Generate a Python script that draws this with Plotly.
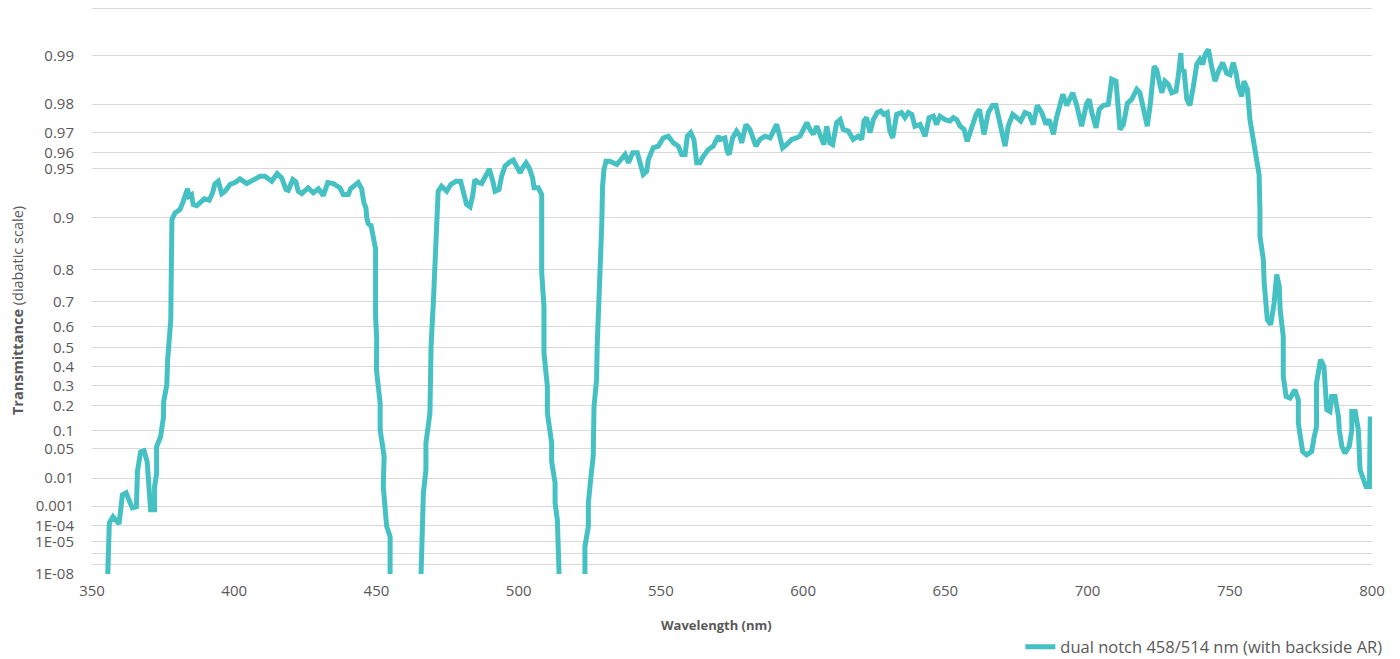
import math
import plotly.graph_objects as go

# ---- data (wavelength in nm, transmittance as fraction) ----
seg1_wl = [355.45, 356.1, 357.4, 359.5, 360.7, 362.0, 363.4, 364.2, 365.6, 366.0, 367.1, 368.3, 369.4,
           370.2, 370.6, 372.0, 372.0, 372.7, 372.7, 374.1, 374.6, 375.1, 375.2, 376.3, 376.6, 377.2,
           377.7, 377.8, 378.0, 378.1, 379.2, 380.9, 381.9, 382.7, 383.6, 384.1, 385.0, 385.6, 386.8,
           389.5, 391.2, 392.4, 393.2, 394.4, 395.6, 396.8, 398.5, 400.6, 402.0, 404.4, 406.7, 409.1,
           410.8, 413.2, 415.1, 416.7, 418.2, 419.0, 420.6, 421.7, 422.5, 423.7, 426.0, 427.8, 429.6,
           431.3, 432.9, 434.8, 437.2, 438.3, 440.1, 440.9, 443.6, 444.8, 445.6, 446.3, 446.6, 447.1,
           448.1, 448.7, 449.7, 449.7, 450.1, 450.0, 451.3, 451.3, 452.7, 452.4, 453.6, 454.8, 454.8]
seg1_T = [1e-9, 1.5e-4, 3.12e-4, 1.31e-4, 2.84e-3, 3.36e-3, 1.38e-3, 8.4e-4, 9.3e-4, 0.01595, 0.0432,
          0.0453, 0.0264, 0.00582, 6.8e-4, 6.8e-4, 0.0054, 0.01327, 0.0539, 0.0799, 0.1199, 0.1472,
          0.2189, 0.3052, 0.4381, 0.5248, 0.6303, 0.742, 0.8312, 0.8976, 0.9066, 0.9108, 0.9187, 0.9259,
          0.9332, 0.9259, 0.9276, 0.9168, 0.9156, 0.9231, 0.9216, 0.9294, 0.9377, 0.9400, 0.9286, 0.9309,
          0.9371, 0.9393, 0.9419, 0.9380, 0.9414, 0.9440, 0.9440, 0.9400, 0.9461, 0.9427, 0.9325, 0.9318,
          0.9414, 0.9393, 0.9309, 0.9286, 0.9341, 0.9294, 0.9332, 0.9266, 0.9388, 0.9380, 0.9341, 0.9276,
          0.9276, 0.9332, 0.9388, 0.9332, 0.9187, 0.9129, 0.9000, 0.8918, 0.8888, 0.8777, 0.8475, 0.644,
          0.5395, 0.3851, 0.2127, 0.1021, 0.0347, 0.00552, 9.2e-5, 2.15e-5, 1e-9]

seg2_wl = [465.6, 466.5, 467.4, 467.4, 468.8, 469.2, 470.0, 470.6, 470.9, 471.7, 472.9, 474.7, 476.1,
           478.0, 479.6, 480.8, 481.7, 482.9, 483.8, 484.6, 485.8, 487.0, 488.2, 489.7, 490.9, 491.7,
           493.1, 494.0, 495.2, 496.7, 498.1, 499.3, 500.5, 501.4, 502.6, 503.7, 504.9, 505.4, 506.9,
           508.1, 508.1, 508.9, 508.9, 510.1, 510.1, 511.6, 511.6, 512.8, 512.8, 513.6, 514.3]
seg2_T = [1e-9, 3.27e-3, 0.01693, 0.0628, 0.1669, 0.5067, 0.6966, 0.8166, 0.8976, 0.9309, 0.9356,
          0.9309, 0.9371, 0.9400, 0.9400, 0.9294, 0.9168, 0.9141, 0.9259, 0.9414, 0.9388, 0.9380, 0.9440,
          0.9496, 0.9400, 0.9309, 0.9325, 0.9440, 0.9514, 0.9541, 0.9554, 0.9514, 0.9467, 0.9503, 0.9537,
          0.9503, 0.9427, 0.9341, 0.9341, 0.9276, 0.7911, 0.6836, 0.4729, 0.2963, 0.1669, 0.0628, 0.0269,
          0.0071, 1.34e-3, 2.18e-4, 1e-9]

seg3_wl = [523.3, 523.3, 524.5, 524.5, 525.3, 526.2, 526.5, 527.4, 527.6, 528.3, 528.6, 529.2, 529.5,
           530.0, 530.7, 532.1, 534.5, 536.2, 537.4, 538.6, 540.1, 541.7, 542.6, 543.8, 545.0, 545.6,
           547.3, 549.1, 550.8, 552.6, 554.4, 556.1, 557.3, 558.5, 559.3, 560.5, 561.6, 562.6, 563.7,
           564.9, 566.7, 568.4, 570.2, 570.8, 572.5, 573.3, 574.0, 575.2, 576.6, 577.8, 578.4, 579.9,
           581.3, 582.5, 583.4, 584.8, 586.6, 588.4, 589.5, 590.7, 591.6, 592.8, 594.2, 596.0, 597.7,
           598.9, 600.1, 601.3, 602.4, 603.6, 604.8, 606.5, 607.3, 608.3, 609.4, 610.4, 611.8, 613.0,
           614.1, 615.9, 617.1, 617.6, 619.4, 620.6, 621.4, 622.3, 623.5, 624.7, 626.1, 627.3, 628.4,
           629.6, 630.5, 631.5, 632.9, 634.6, 635.8, 637.0, 638.2, 639.3, 641.1, 642.9, 644.3, 645.8,
           646.9, 648.1, 649.9, 651.6, 652.8, 654.0, 655.2, 656.6, 657.7, 659.3, 660.8, 662.0, 662.8,
           663.6, 665.1, 666.6, 667.8, 669.0, 670.2, 671.0, 672.1, 673.7, 675.1, 676.5, 678.0, 679.5,
           680.9, 682.3, 683.9, 685.4, 686.5, 688.0, 689.1, 690.3, 691.3, 692.7, 693.8, 694.8, 696.2,
           697.9, 699.7, 700.6, 701.5, 703.0, 704.1, 705.5, 707.3, 708.5, 710.0, 711.4, 712.6, 714.0,
           715.5, 717.3, 718.4, 720.0, 721.0, 722.0, 723.4, 724.3, 725.2, 726.1, 727.2, 728.4, 729.6,
           731.1, 731.9, 732.8, 733.1, 733.9, 734.9, 736.0, 737.2, 738.4, 739.5, 740.5, 741.3, 742.5,
           743.6, 744.8, 746.0, 747.5, 748.9, 750.1, 751.2, 752.2, 753.0, 754.2, 755.0, 756.2, 757.1,
           758.3, 758.9, 760.0, 760.3, 760.6, 760.6, 761.8, 762.1, 763.2, 764.4, 765.6, 766.5, 767.4,
           767.7, 768.8, 768.8, 769.8, 771.2, 772.9, 774.1, 774.1, 774.9, 775.6, 777.0, 778.8, 779.6,
           780.5, 780.5, 781.9, 783.1, 783.7, 784.1, 785.2, 785.8, 787.0, 788.2, 788.5, 789.4, 790.5,
           792.0, 792.9, 792.9, 794.1, 795.2, 795.8, 797.0, 797.9, 799.1, 799.4]
seg3_T = [1e-9, 4.0e-6, 9.2e-5, 1.34e-3, 0.00895, 0.0347, 0.1966, 0.3317, 0.5067, 0.6966, 0.8166,
          0.8878, 0.9356, 0.9491, 0.9547, 0.9547, 0.9526, 0.9558, 0.9588, 0.9537, 0.9598, 0.9598, 0.9537,
          0.9454, 0.9478, 0.9558, 0.9626, 0.9635, 0.9675, 0.9683, 0.9651, 0.9635, 0.9588, 0.9588, 0.9683,
          0.9699, 0.9668, 0.9537, 0.9537, 0.9578, 0.9617, 0.9635, 0.9683, 0.9668, 0.9675, 0.9607, 0.9588,
          0.9675, 0.9705, 0.9683, 0.9651, 0.9732, 0.9712, 0.9675, 0.9635, 0.9668, 0.9683, 0.9675, 0.9699,
          0.9732, 0.9691, 0.9626, 0.9643, 0.9668, 0.9675, 0.9683, 0.9712, 0.9739, 0.9712, 0.9691, 0.9725,
          0.9675, 0.9643, 0.9725, 0.9651, 0.9643, 0.9739, 0.9750, 0.9712, 0.9705, 0.9683, 0.9668, 0.9683,
          0.9668, 0.9745, 0.9757, 0.9699, 0.9750, 0.9774, 0.9779, 0.9768, 0.9774, 0.9705, 0.9675, 0.9768,
          0.9774, 0.9757, 0.9774, 0.9768, 0.9725, 0.9732, 0.9683, 0.9757, 0.9762, 0.9732, 0.9762, 0.9750,
          0.9745, 0.9757, 0.9750, 0.9725, 0.9712, 0.9659, 0.9725, 0.9768, 0.9784, 0.9739, 0.9691, 0.9774,
          0.9796, 0.9796, 0.9750, 0.9683, 0.9635, 0.9725, 0.9768, 0.9757, 0.9745, 0.9774, 0.9768, 0.9732,
          0.9796, 0.9774, 0.9732, 0.9750, 0.9691, 0.9757, 0.9802, 0.9826, 0.9796, 0.9816, 0.9830, 0.9796,
          0.9725, 0.9802, 0.9813, 0.9774, 0.9719, 0.9784, 0.9796, 0.9799, 0.9860, 0.9856, 0.9712, 0.9732,
          0.9802, 0.9813, 0.9838, 0.9830, 0.9757, 0.9725, 0.9796, 0.9884, 0.9878, 0.9853, 0.9830, 0.9856,
          0.9849, 0.9830, 0.9834, 0.9866, 0.9904, 0.9875, 0.9878, 0.9813, 0.9796, 0.9845, 0.9887, 0.9895,
          0.9887, 0.9902, 0.9909, 0.9884, 0.9856, 0.9875, 0.9890, 0.9872, 0.9869, 0.9890, 0.9872, 0.9845,
          0.9821, 0.9856, 0.9838, 0.9750, 0.9668, 0.9578, 0.9467, 0.9454, 0.9108, 0.8715, 0.8244, 0.7629,
          0.6303, 0.6088, 0.6966, 0.7866, 0.7522, 0.6706, 0.5553, 0.3492, 0.2449, 0.2370, 0.2791, 0.2287,
          0.1262, 0.0715, 0.0439, 0.0376, 0.0439, 0.0762, 0.1137, 0.3143, 0.4381, 0.4026, 0.2622, 0.1815,
          0.1739, 0.2449, 0.2449, 0.1525, 0.1021, 0.0546, 0.0407, 0.0546, 0.1021, 0.1739, 0.1739, 0.1021,
          0.01693, 0.00895, 0.00552, 0.00552, 0.1525]

tick_values = [0.995, 0.99, 0.98, 0.97, 0.96, 0.95, 0.9, 0.8, 0.7, 0.6, 0.5, 0.4, 0.3, 0.2, 0.1, 0.05,
               0.01, 0.001, 1e-4, 1e-5, 1e-6, 1e-7, 1e-8]
tick_labels = ["", "0.99", "0.98", "0.97", "0.96", "0.95", "0.9", "0.8", "0.7", "0.6", "0.5", "0.4",
               "0.3", "0.2", "0.1", "0.05", "0.01", "0.001", "1E-04", "1E-05", "", "", "1E-08"]
x_ticks = [350, 400, 450, 500, 550, 600, 650, 700, 750, 800]
series_name = "dual notch 458/514 nm (with backside AR)"


def diabatic(t):
    """Diabatic axis coordinate: -log10(-log10(T))."""
    if t is None:
        return None
    return -math.log10(-math.log10(t))


xs, ys = [], []
for wl, tr in ((seg1_wl, seg1_T), (seg2_wl, seg2_T), (seg3_wl, seg3_T)):
    if xs:
        xs.append(None)
        ys.append(None)
    xs.extend(wl)
    ys.extend(diabatic(t) for t in tr)

GRAY = "#595959"
FONT = "Open Sans"

# plot area: top at 4 px, 0.995 gridline ~4 px lower (at 8 px)
Y_TOP = diabatic(0.995) + 4 / 158.6
Y_BOT = diabatic(1e-8)

fig = go.Figure()
fig.add_trace(go.Scatter(
    x=xs, y=ys, mode="lines", name=series_name,
    line=dict(color="#45C1C3", width=5), connectgaps=False,
    showlegend=True,
))

fig.update_layout(
    width=1400, height=659,
    margin=dict(l=92, r=28, t=4, b=85, autoexpand=False),
    paper_bgcolor="white", plot_bgcolor="white",
    font=dict(family=FONT, size=15, color=GRAY),
    showlegend=True,
    legend=dict(orientation="h", x=1.012, xanchor="right", y=-0.128, yanchor="middle",
                font=dict(family=FONT, size=16.5, color=GRAY), bgcolor="rgba(0,0,0,0)",
                itemwidth=30),
    xaxis=dict(range=[350, 800], tickvals=x_ticks, ticktext=[str(v) for v in x_ticks],
               showgrid=False, zeroline=False, showline=False, ticks="", automargin=False,
               ticklabelstandoff=6, tickfont=dict(size=15, color=GRAY)),
    yaxis=dict(range=[Y_BOT - 0.002, Y_TOP],
               tickvals=[diabatic(v) for v in tick_values], ticktext=tick_labels,
               showgrid=True, gridcolor="#D9D9D9", gridwidth=1, zeroline=False, automargin=False,
               showline=False, ticks="", ticklabelstandoff=17,
               tickfont=dict(size=15, color=GRAY)),
    annotations=[
        dict(text="<b>Wavelength (nm)</b>", x=0.4875, y=-0.090, xref="paper", yref="paper",
             showarrow=False, xanchor="center", yanchor="middle",
             font=dict(family=FONT, size=13, color=GRAY)),
        dict(text="<b>Transmittance</b> (diabatic scale)", x=-0.0586, y=0.463, xref="paper",
             yref="paper", showarrow=False, textangle=-90, xanchor="center", yanchor="middle",
             font=dict(family=FONT, size=14.5, color=GRAY)),
    ],
)

fig.write_html("out.html", config={"displayModeBar": False},
               post_script="document.body.style.margin='0px';document.body.style.overflow='hidden';")
